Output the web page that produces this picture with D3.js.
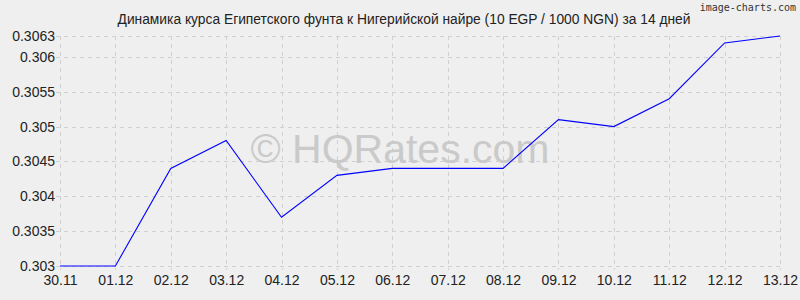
<!DOCTYPE html>
<html>
<head>
<meta charset="utf-8">
<script src="https://cdn.jsdelivr.net/npm/d3@7"></script>
<style>
  html, body { margin: 0; padding: 0; background: #efefef; }
  svg { display: block; font-family: "Liberation Sans", Arial, sans-serif; }
</style>
</head>
<body>
<svg id="chart" width="800" height="300"></svg>
<script>
// data
const dates = ['30.11', '01.12', '02.12', '03.12', '04.12', '05.12', '06.12',
               '07.12', '08.12', '09.12', '10.12', '11.12', '12.12', '13.12'];
const rates = [0.3030, 0.3030, 0.3044, 0.3048, 0.3037, 0.3043, 0.3044,
               0.3044, 0.3044, 0.3051, 0.3050, 0.3054, 0.3062, 0.3063];
const yTicks = [0.303, 0.3035, 0.304, 0.3045, 0.305, 0.3055, 0.306, 0.3063];
const title = 'Динамика курса Египетского фунта к Нигерийской найре (10 EGP / 1000 NGN) за 14 дней';

const width = 800, height = 300;
const margin = { top: 36, right: 20, bottom: 34, left: 60 };

const svg = d3.select('#chart');

svg.append('rect')
    .attr('width', width)
    .attr('height', height)
    .attr('fill', '#efefef');

const x = d3.scalePoint()
    .domain(dates)
    .range([margin.left, width - margin.right]);

const y = d3.scaleLinear()
    .domain([0.303, 0.3063])
    .range([height - margin.bottom, margin.top]);

// grid
const grid = svg.append('g')
    .attr('stroke', '#d0d0d0')
    .attr('stroke-dasharray', '4,4')
    .attr('stroke-width', 1);

grid.selectAll('line.v')
    .data(dates)
    .join('line')
    .attr('class', 'v')
    .attr('x1', d => Math.round(x(d)) + 0.5)
    .attr('x2', d => Math.round(x(d)) + 0.5)
    .attr('y1', y(0.3063))
    .attr('y2', y(0.303) + 4);

grid.selectAll('line.h')
    .data(yTicks)
    .join('line')
    .attr('class', 'h')
    .attr('x1', margin.left - 4)
    .attr('x2', width - margin.right)
    .attr('y1', d => Math.round(y(d)) + 0.5)
    .attr('y2', d => Math.round(y(d)) + 0.5);

// watermark
svg.append('text')
    .attr('x', 400)
    .attr('y', 163)
    .attr('text-anchor', 'middle')
    .attr('font-size', 41)
    .attr('fill', '#cacaca')
    .text('© HQRates.com');

// y axis labels
const yAxis = svg.append('g')
    .attr('transform', `translate(${margin.left - 5},0)`)
    .call(d3.axisLeft(y).tickValues(yTicks).tickSize(0).tickPadding(0)
        .tickFormat(d => String(+d.toFixed(4))));
yAxis.select('.domain').remove();
yAxis.selectAll('text')
    .attr('font-family', '"Liberation Sans", Arial, sans-serif')
    .attr('font-size', 14)
    .attr('fill', '#222');

// x axis labels
const xAxis = svg.append('g')
    .attr('transform', `translate(0,${height - margin.bottom + 9})`)
    .call(d3.axisBottom(x).tickSize(0).tickPadding(0));
xAxis.select('.domain').remove();
xAxis.selectAll('text')
    .attr('font-family', '"Liberation Sans", Arial, sans-serif')
    .attr('font-size', 14)
    .attr('fill', '#222');

// rate line
const line = d3.line()
    .x((d, i) => x(dates[i]))
    .y(d => y(d));

svg.append('path')
    .datum(rates)
    .attr('fill', 'none')
    .attr('stroke', '#0000ff')
    .attr('stroke-width', 1.1)
    .attr('d', line);

// title
svg.append('text')
    .attr('x', 404)
    .attr('y', 24)
    .attr('text-anchor', 'middle')
    .attr('font-size', 13.8)
    .attr('fill', '#222')
    .text(title);

// credit
svg.append('text')
    .attr('x', 796)
    .attr('y', 11)
    .attr('text-anchor', 'end')
    .attr('font-family', '"DejaVu Sans Mono", monospace')
    .attr('font-size', 10)
    .attr('fill', '#333')
    .text('image-charts.com');
</script>
</body>
</html>
